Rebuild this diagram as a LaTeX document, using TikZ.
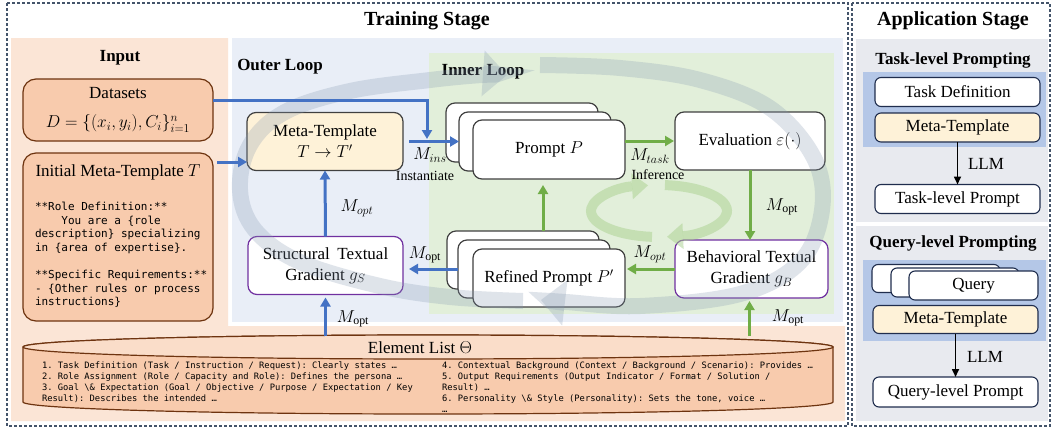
\documentclass[tikz,border=0pt]{standalone}
\usepackage{fontspec}
\setmainfont{Liberation Serif}
\setmonofont{DejaVu Sans Mono}
\usetikzlibrary{arrows.meta}
\definecolor{peachbg}{HTML}{FBE5D6}
\definecolor{peachtop}{HTML}{FADDC9}
\definecolor{peachbox}{HTML}{F8CBAD}
\definecolor{brownln}{HTML}{6E3410}
\definecolor{bluebg}{HTML}{E9EEF7}
\definecolor{greenbg}{HTML}{E2EFDA}
\definecolor{cream}{HTML}{FEF2D8}
\definecolor{boxln}{HTML}{404040}
\definecolor{purp}{HTML}{7030A0}
\definecolor{barrow}{HTML}{4472C4}
\definecolor{garrow}{HTML}{70AD47}
\definecolor{dashln}{HTML}{44546A}
\definecolor{appbg}{HTML}{E8EAEF}
\definecolor{hlblue}{HTML}{B4C7E7}
\definecolor{navy}{HTML}{1F2D4D}
\definecolor{ringc}{HTML}{8497B0}
\definecolor{ringg}{HTML}{A9D18E}
\newcommand\sz[2]{\fontsize{#1}{#2}\selectfont}
\begin{document}
\begin{tikzpicture}[x=1pt,y=-1pt,
  every node/.style={inner sep=0pt,outer sep=0pt},
  box/.style={draw=boxln,line width=1.2pt,rounded corners=9pt,fill=white,align=center,font=\sz{17}{21}},
  inbox/.style={box,draw=brownln,fill=peachbox,rounded corners=13pt,minimum width=190pt},
  pbox/.style={box,minimum width=152pt,minimum height=59pt},
  gbox/.style={box,draw=purp},
  abox/.style={draw=navy,line width=1.1pt,rounded corners=6pt,fill=white,align=center,font=\sz{17}{21},minimum width=165pt,minimum height=29pt},
  barr/.style={draw=barrow,line width=3pt,-{Triangle[length=9pt,width=10pt]}},
  garr/.style={draw=garrow,line width=3pt,-{Triangle[length=9pt,width=10pt]}},
  karr/.style={draw=black,line width=1.6pt,-{Triangle[length=8pt,width=7pt]}},
  lbl/.style={font=\sz{17}{21}},
  small/.style={font=\sz{14}{16}},
  ttl/.style={font=\sz{20}{24}\bfseries},
  sttl/.style={font=\sz{17}{21}\bfseries},
  dashbox/.style={draw=dashln,line width=1.1pt,dash pattern=on 3pt off 2pt},
  ring/.style={draw=ringc,opacity=0.26,line width=16pt,-{Triangle[length=24pt,width=46pt,line width=0pt]}},
  sring/.style={draw=ringg,opacity=0.5,line width=10pt,-{Triangle[length=16pt,width=26pt,line width=0pt]}}
]
\useasboundingbox (0,0) rectangle (1055,429);
\fill[white] (0,0) rectangle (1055,429);
% stage frames
\draw[dashbox] (7,3) rectangle (848,426);
\draw[dashbox] (852,3) rectangle (1050,426);
\node[ttl] (ttrain) at (427,21) {Training Stage};
\node[ttl] (tapp) at (953,21) {Application Stage};
% backgrounds
\fill[peachbg] (11,38) -- (228,38) -- (228,326) -- (845,326) -- (845,421) -- (11,421) -- cycle;
\fill[bluebg] (232,38) rectangle (843,322);
\fill[greenbg] (429,53) rectangle (834,314);
\node[sttl] (tinput) at (120,58) {Input};
\node[sttl] (touter) at (280,67) {Outer Loop};
\node[sttl] (tinner) at (483,72) {Inner Loop};
% input boxes
\node[inbox,minimum height=62pt] (data) at (118,110) {Datasets\\[8pt] $D=\{(x_i,y_i),C_i\}_{i=1}^{n}$};
\node[inbox,minimum height=168pt] (init) at (118,237) {};
\node[lbl] (inittitle) at (118,172) {Initial Meta-Template $T$};
\node[anchor=north west,align=left,font=\sz{11}{13.6}\ttfamily] (inittext) at (35,202) {**Role Definition:**\\
\phantom{0000}You are a \{role\\
description\} specializing\\
in \{area of expertise\}.\\
\mbox{}\\
**Specific Requirements:**\\
- \{Other rules or process\\
instructions\}};
% outer loop boxes
\node[box,fill=cream,minimum width=156pt,minimum height=58pt] (meta) at (325,141.5) {Meta-Template\\ $T\rightarrow T'$};
\node[gbox,minimum width=155pt,minimum height=58pt] (sgrad) at (325.5,265.5) {Structural\hspace{0.45em}Textual\\ Gradient $g_S$};
% prompt stack
\node[pbox] (p3) at (522,132.5) {};
\node[pbox] (p2) at (535,141.5) {};
\node[pbox] (p1) at (549,149.5) {Prompt $P$};
\node[box,minimum width=150pt,minimum height=58pt] (eval) at (750,141) {Evaluation $\varepsilon(\cdot)$};
\node[gbox,minimum width=153pt,minimum height=58pt] (bgrad) at (751.5,269) {Behavioral Textual\\ Gradient $g_B$};
% refined stack
\node[pbox,minimum height=58pt] (r3) at (523,260) {};
\node[pbox,minimum height=58pt] (r2) at (534,269) {};
\node[pbox,minimum height=58pt] (r1) at (549,278) {Refined Prompt $P'$};
% element list cylinder
\path[fill=peachbox,draw=brownln,line width=1.2pt] (23,347) -- (23,402) arc[start angle=180,end angle=0,x radius=405,y radius=12] -- (833,347) arc[start angle=0,end angle=-180,x radius=405,y radius=12] -- cycle;
\path[fill=peachtop,draw=brownln,line width=1.2pt] (23,347) arc[start angle=180,end angle=-180,x radius=405,y radius=12];
\coordinate (elemtop) at (428,336);
\node[lbl] (elem) at (420,348) {Element List $\Theta$};
\node[anchor=north west,align=left,font=\sz{8.8}{11}\ttfamily] (list1) at (42,362) {1. Task Definition (Task / Instruction / Request): Clearly states …\\
2. Role Assignment (Role / Capacity and Role): Defines the persona …\\
3. Goal \textbackslash\& Expectation (Goal / Objective / Purpose / Expectation / Key\\
Result): Describes the intended …};
\node[anchor=north west,align=left,font=\sz{8.8}{11}\ttfamily] (list2) at (442,362) {4. Contextual Background (Context / Background / Scenario): Provides …\\
5. Output Requirements (Output Indicator / Format / Solution /\\
Result) …\\
6. Personality \textbackslash\& Style (Personality): Sets the tone, voice …\\
…};
% loop rings
\draw[ring] plot[smooth,tension=0.6] coordinates {(540,65) (620,68) (700,80) (770,108) (814,158) (822,210) (800,262) (740,294) (640,306) (566,302) (541,300)};
\draw[ring] plot[smooth,tension=0.6] coordinates {(523,301) (450,297) (380,286) (300,262) (255,230) (240,190) (250,145) (285,112) (350,91) (430,80) (482,75) (507,75)};
\draw[sring] (659,211) ++(275:68 and 26) arc[start angle=275,end angle=443.2,x radius=68,y radius=26];
\draw[sring] (659,211) ++(95.9:68 and 26) arc[start angle=95.9,end angle=260.7,x radius=68,y radius=26];
% blue arrows
\coordinate (join) at (427,139);
\draw[barr] (data.east |- 0,100) -| (join);
\draw[barr,shorten <=6pt] (meta.east) -- (p2.west);
\draw[barr,shorten <=4pt] (init.east |- 0,162) -- (meta.west |- 0,162);
\draw[barr] (sgrad.north) -- (meta.south);
\draw[barr,shorten >=3pt] (sgrad.south |- elemtop) -- (sgrad.south);
\draw[barr,shorten >=6pt] (r2.west) -- (sgrad.east |- r2.west);
% green arrows
\draw[garr,shorten >=1pt] (p1.east |- eval.west) -- (eval.west);
\draw[garr] (eval.south) -- (eval.south |- bgrad.north);
\draw[garr,shorten >=2pt] (bgrad.west) -- (r1.east |- bgrad.west);
\draw[garr,shorten >=6pt] ([xshift=-6pt]p1.south |- r3.north) -- ([xshift=-6pt]p1.south);
\draw[garr,shorten >=3pt] ([xshift=-2pt]bgrad.south |- elemtop) -- ([xshift=-2pt]bgrad.south);
% labels
\node[lbl] (lins) at (430,155) {$M_{ins}$};
\node[small] (linst) at (425,176) {Instantiate};
\node[lbl] (lopt1) at (357,208) {$M_{opt}$};
\node[lbl] (lopt2) at (353,319) {$M_{\mathrm{opt}}$};
\node[lbl] (lopt3) at (425,255) {$M_{\mathrm{opt}}$};
\node[lbl] (ltask) at (650,156) {$M_{task}$};
\node[small] (linf) at (658,175) {Inference};
\node[lbl] (lopt4) at (782,207) {$M_{\mathrm{opt}}$};
\node[lbl] (lopt5) at (650,254) {$M_{opt}$};
\node[lbl] (lopt6) at (788,318) {$M_{\mathrm{opt}}$};
% application stage
\fill[appbg] (856,39) rectangle (1048,222);
\fill[appbg] (856,226) rectangle (1048,421);
\node[sttl] (ttask) at (953,60) {Task-level Prompting};
\fill[hlblue] (863,72) rectangle (1046,147);
\node[abox] (td) at (957.5,92) {Task Definition};
\node[abox,fill=cream] (mt1) at (957.5,127.5) {Meta-Template};
\node[abox] (tlp) at (957.5,199) {Task-level Prompt};
\draw[karr] (mt1.south) -- (tlp.north);
\node[lbl] (llm1) at (986,164) {LLM};
\node[sttl] (tquery) at (953,243) {Query-level Prompting};
\fill[hlblue] (863,260) rectangle (1046,341);
\node[abox,minimum width=128pt,minimum height=28pt] (q3) at (936,278.5) {};
\node[abox,minimum width=128pt] (q2) at (955,282.5) {};
\node[abox,minimum width=129pt] (q1) at (973.5,285.5) {Query};
\node[abox,fill=cream,minimum height=28pt] (mt2) at (955.5,319.5) {Meta-Template};
\node[abox,minimum height=30pt] (qlp) at (955.5,392) {Query-level Prompt};
\draw[karr] (mt2.south) -- (qlp.north);
\node[lbl] (llm2) at (985,357) {LLM};
\end{tikzpicture}
\end{document}
